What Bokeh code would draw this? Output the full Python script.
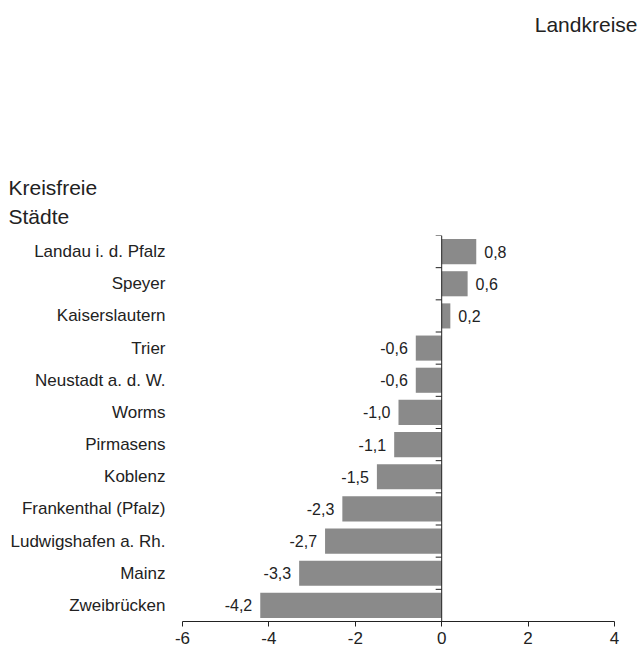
from math import pi
from bokeh.plotting import figure
from bokeh.models import Range1d, FixedTicker, Span, Title, ColumnDataSource
from bokeh.core.properties import value
from bokeh.embed import file_html
from bokeh.resources import INLINE

cities = ["Landau i. d. Pfalz", "Speyer", "Kaiserslautern", "Trier",
          "Neustadt a. d. W.", "Worms", "Pirmasens", "Koblenz",
          "Frankenthal (Pfalz)", "Ludwigshafen a. Rh.", "Mainz", "Zweibrücken"]
values = [0.8, 0.6, 0.2, -0.6, -0.6, -1.0, -1.1, -1.5, -2.3, -2.7, -3.3, -4.2]
x_ticks = [-6, -4, -2, 0, 2, 4]
group_title = ["Kreisfreie", "Städte"]
other_title = "Landkreise"

FONT = "Liberation Sans"
TXT = "#222222"
n = len(cities)
pos = [i + 0.5 for i in range(n)]
bounds = list(range(n))

src = ColumnDataSource(dict(
    y=pos, v=values,
    lab=[("%.1f" % v).replace(".", ",") for v in values],
    align=["left" if v >= 0 else "right" for v in values],
    off=[8 if v >= 0 else -8 for v in values],
))

p = figure(width=638, height=646, output_backend="svg", toolbar_location=None,
           x_range=Range1d(-6, 4), y_range=Range1d(n, 0),
           min_border_left=182, min_border_right=24, min_border_top=235,
           min_border_bottom=0)
p.outline_line_color = None
p.xgrid.grid_line_color = None
p.ygrid.grid_line_color = None
p.background_fill_color = "white"
p.border_fill_color = "white"

p.hbar(y="y", right="v", left=0, height=0.78, source=src,
       fill_color="#8a8a8a", line_color=None)
p.text(x="v", y="y", text="lab", source=src, text_align="align",
       x_offset="off", text_baseline="middle", text_font=value(FONT),
       text_font_size="16px", text_color=TXT)

# vertical zero line with separators
p.add_layout(Span(location=0, dimension="height", line_color=TXT, line_width=1))
p.ray(x=[0] * len(bounds), y=bounds, length=6, length_units="screen",
      angle=pi, line_color=TXT, line_width=1)

# x axis
xa = p.xaxis[0]
xa.ticker = FixedTicker(ticks=x_ticks)
xa.major_label_overrides = {t: str(t) for t in x_ticks}
xa.major_tick_in = 0
xa.major_tick_out = 5
xa.minor_tick_line_color = None
xa.axis_line_color = TXT
xa.major_tick_line_color = TXT
xa.major_label_text_font = FONT
xa.major_label_text_font_size = "17px"
xa.major_label_text_color = TXT
xa.major_label_standoff = 5

# y axis: category names
ya = p.yaxis[0]
ya.ticker = FixedTicker(ticks=pos)
ya.major_label_overrides = {y: c for y, c in zip(pos, cities)}
ya.axis_line_color = None
ya.major_tick_line_color = None
ya.minor_tick_line_color = None
ya.major_tick_in = 0
ya.major_tick_out = 0
ya.major_label_standoff = 17
ya.major_label_text_font = FONT
ya.major_label_text_font_size = "17px"
ya.major_label_text_color = TXT

def title(text, align, offset, standoff, lh=1.2):
    return Title(text=text, align=align, offset=offset, standoff=standoff,
                 text_font=FONT, text_font_size="21px", text_line_height=lh,
                 text_font_style="normal", text_color=TXT)

# titles stacked above the frame (first = closest to frame)
p.add_layout(title("\n".join(group_title), "left", -174, 14, 1.28), "above")
p.add_layout(title(" ", "left", 0, 105), "above")   # spacer
p.add_layout(title(other_title, "right", -23, 4), "above")

open("out.html", "w").write(file_html(p, INLINE))
